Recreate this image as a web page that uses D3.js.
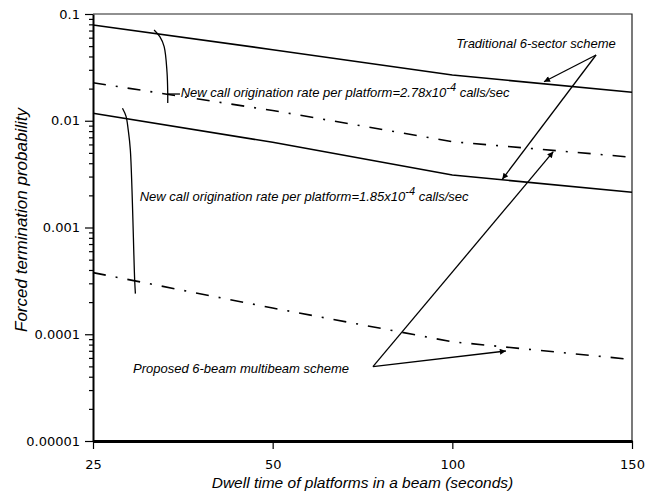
<!DOCTYPE html>
<html>
<head>
<meta charset="utf-8">
<script src="https://cdn.jsdelivr.net/npm/d3@7"></script>
<style>
body { margin: 0; background: #fff; }
.tick text { font-family: "DejaVu Sans", sans-serif; font-size: 13px; fill: #000; }
.note { font-family: "Liberation Sans", Arial, sans-serif; font-style: italic; font-size: 13px; }
.axisTitle { font-family: "Liberation Sans", Arial, sans-serif; font-style: italic; font-size: 15.5px; }
</style>
</head>
<body>
<div id="chart"></div>
<script>
// x categories (evenly spaced on the axis)
var dwellTimes = [25, 50, 100, 150];

// y ticks
var yTicks = [0.00001, 0.0001, 0.001, 0.01, 0.1];
var yTickLabels = ["0.00001", "0.0001", "0.001", "0.01", "0.1"];

// Traditional 6-sector scheme (solid)
var tradHigh = [0.0789, 0.0463, 0.0268, 0.0185];   // 2.78e-4 calls/sec
var tradLow = [0.01175, 0.00628, 0.0031, 0.00214]; // 1.85e-4 calls/sec

// Proposed 6-beam multibeam scheme (dash-dot)
var propHigh = [0.0227, 0.01247, 0.00637, 0.00455];
var propLow = [0.000378, 0.000176, 0.000085, 0.000058];

var svgWidth = 645;
var svgHeight = 495;

var chartMargin = {
    top: 14,
    right: 13,
    bottom: 54,
    left: 93
};

var chartWidth = svgWidth - chartMargin.left - chartMargin.right;
var chartHeight = svgHeight - chartMargin.top - chartMargin.bottom;

var svg = d3.select('#chart').append('svg')
    .attr('width', svgWidth)
    .attr('height', svgHeight);

var defs = svg.append('defs');
defs.append('marker')
    .attr('id', 'arrow')
    .attr('viewBox', '0 0 10 10')
    .attr('refX', 10)
    .attr('refY', 5)
    .attr('markerUnits', 'userSpaceOnUse')
    .attr('markerWidth', 11)
    .attr('markerHeight', 6)
    .attr('orient', 'auto')
  .append('path')
    .attr('d', 'M0,0 L10,5 L0,10 z')
    .attr('fill', '#000');

var chartGroup = svg.append('g')
    .attr('transform', `translate(${chartMargin.left}, ${chartMargin.top})`);

// the axis spaces 25, 50, 100, 150 evenly
var xScale = d3.scaleLinear()
    .domain(dwellTimes)
    .range(dwellTimes.map((d, i) => i * chartWidth / (dwellTimes.length - 1)));

var yScale = d3.scaleLog()
    .domain([0.00001, 0.1])
    .range([chartHeight, 0]);

// frame (top and right)
chartGroup.append('path')
    .attr('d', `M0,0 H${chartWidth} V${chartHeight}`)
    .attr('fill', 'none')
    .attr('stroke', '#222')
    .attr('stroke-width', 1.2);

// minor y ticks
var minorTicks = [];
for (var e = -5; e < -1; e++) {
    for (var m = 2; m <= 9; m++) minorTicks.push(m * Math.pow(10, e));
}
chartGroup.append('g')
    .call(d3.axisLeft(yScale).tickValues(minorTicks).tickSize(4).tickFormat(''))
    .call(g => g.select('.domain').remove())
    .call(g => g.selectAll('line').attr('stroke-width', 1.2));

var yAxis = chartGroup.append('g')
    .call(d3.axisLeft(yScale)
        .tickValues(yTicks)
        .tickFormat((d, i) => yTickLabels[i])
        .tickSize(8)
        .tickPadding(5)
        .tickSizeOuter(0));
yAxis.select('.domain').attr('stroke-width', 2);
yAxis.selectAll('line').attr('stroke-width', 1.2);

var xAxis = chartGroup.append('g')
    .attr('transform', `translate(0, ${chartHeight})`)
    .call(d3.axisBottom(xScale)
        .tickValues(dwellTimes)
        .tickFormat(d3.format('d'))
        .tickSize(8)
        .tickSizeOuter(0));
xAxis.select('.domain').attr('stroke-width', 3);
xAxis.selectAll('line').attr('stroke-width', 1.2);
xAxis.selectAll('text').attr('y', 19).attr('dy', '0.71em');

// series
var series = [
    { values: tradHigh, dash: null },
    { values: tradLow, dash: null },
    { values: propHigh, dash: '13,10,2,10' },
    { values: propLow, dash: '13,10,2,10' }
];

var line = d3.line()
    .x((d, i) => xScale(dwellTimes[i]))
    .y(d => yScale(d));

chartGroup.selectAll('.series')
    .data(series)
    .enter()
    .append('path')
    .attr('class', 'series')
    .attr('d', d => line(d.values))
    .attr('fill', 'none')
    .attr('stroke', '#000')
    .attr('stroke-width', 1.6)
    .attr('stroke-dasharray', d => d.dash);

// annotation leaders, in data coordinates [dwell time, probability]
var leaderHigh = [[33.5, 0.0708], [34.3, 0.0613], [34.9, 0.0495], [35.3, 0.0285], [35.4, 0.0178], [35.4, 0.01466]];
var leaderHighTail = [[35.4, 0.0178], [37.1, 0.0178]];
var leaderLow = [[29.1, 0.0131], [29.6, 0.0110], [29.9, 0.0082], [30.2, 0.0053], [30.8, 0.00032], [30.9, 0.00024]];

var curve = d3.line()
    .x(d => xScale(d[0]))
    .y(d => yScale(d[1]))
    .curve(d3.curveCatmullRom);

[leaderHigh, leaderHighTail, leaderLow].forEach(function(pts) {
    chartGroup.append('path')
        .attr('d', curve(pts))
        .attr('fill', 'none')
        .attr('stroke', '#000')
        .attr('stroke-width', 1.3);
});

// arrows: [from, to]
var arrows = [
    [[140.0, 0.0413], [125.5, 0.0232]],
    [[140.0, 0.0413], [113.9, 0.00283]],
    [[77.9, 0.0000497], [128.1, 0.00513]],
    [[77.9, 0.0000497], [114.9, 0.0000697]]
];

chartGroup.selectAll('.arrow')
    .data(arrows)
    .enter()
    .append('line')
    .attr('class', 'arrow')
    .attr('x1', d => xScale(d[0][0]))
    .attr('y1', d => yScale(d[0][1]))
    .attr('x2', d => xScale(d[1][0]))
    .attr('y2', d => yScale(d[1][1]))
    .attr('stroke', '#000')
    .attr('stroke-width', 1.3)
    .attr('marker-end', 'url(#arrow)');

// text notes
chartGroup.append('text')
    .attr('class', 'note')
    .attr('x', xScale(123.3))
    .attr('y', yScale(0.048))
    .attr('text-anchor', 'middle')
    .text('Traditional 6-sector scheme');

chartGroup.append('text')
    .attr('class', 'note')
    .attr('x', xScale(45.6))
    .attr('y', yScale(0.000043))
    .attr('text-anchor', 'middle')
    .text('Proposed 6-beam multibeam scheme');

var rateNotes = [
    { x: 37.2, y: 0.0167, rate: '2.78' },
    { x: 31.5, y: 0.00178, rate: '1.85' }
];

rateNotes.forEach(function(n) {
    var t = chartGroup.append('text')
        .attr('class', 'note')
        .attr('x', xScale(n.x))
        .attr('y', yScale(n.y));
    t.append('tspan').text('New call origination rate per platform=' + n.rate + 'x10');
    t.append('tspan').attr('dy', -6).attr('font-size', 11).text('-4');
    t.append('tspan').attr('dy', 6).text(' calls/sec');
});

// axis titles
chartGroup.append('text')
    .attr('class', 'axisTitle')
    .attr('transform', 'rotate(-90)')
    .attr('x', -206)
    .attr('y', -66)
    .attr('text-anchor', 'middle')
    .style('font-size', '17px')
    .text('Forced termination probability');

chartGroup.append('text')
    .attr('class', 'axisTitle')
    .attr('x', chartWidth / 2)
    .attr('y', chartHeight + 47)
    .attr('text-anchor', 'middle')
    .text('Dwell time of platforms in a beam (seconds)');
</script>
</body>
</html>
